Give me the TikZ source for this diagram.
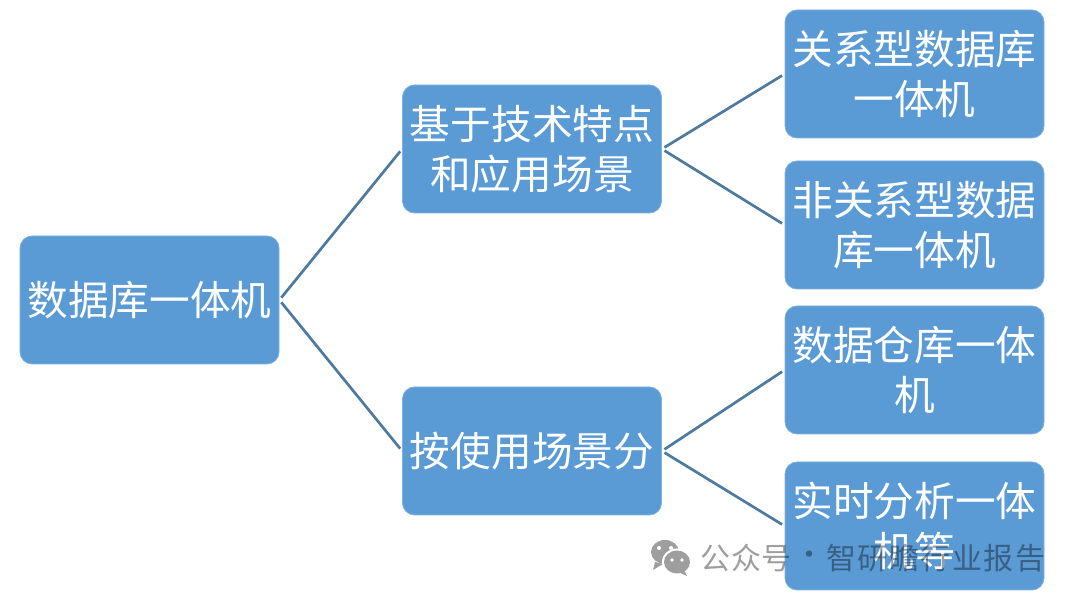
\documentclass[tikz,border=0pt]{standalone}
\usepackage{fontspec}
\setmainfont{Noto Sans CJK SC}
\usetikzlibrary{calc}
\definecolor{boxblue}{HTML}{5B9BD5}
\definecolor{boxedge}{HTML}{7FB1DF}
\definecolor{linkblue}{HTML}{4F7A9F}
\tikzset{
  box/.style={rectangle,rounded corners=12pt,fill=boxblue,draw=boxedge,line width=0.8pt,
    minimum width=259pt,minimum height=128pt,inner sep=0pt,text=white,align=center,
    font=\fontsize{40.7}{50}\selectfont},
  link/.style={draw=linkblue,line width=2.7pt,shorten <=3pt,shorten >=3pt},
  mark text/.style={inner sep=0pt,text=black,text opacity=0.38,font=\fontsize{30}{30}\selectfont,anchor=west}
}
\begin{document}
\begin{tikzpicture}[x=1pt,y=-1pt]
\useasboundingbox[fill=white] (0,0) rectangle (1080,601);
\node[box] (root) at (149.5,300) {\raisebox{1pt}{数据库一体机}};
\node[box] (mid1) at (532,149) {基于技术特点\\和应用场景};
\node[box] (mid2) at (532,451) {按使用场景分};
\node[box] (leaf1) at (914.5,74) {关系型数据库\\一体机};
\node[box] (leaf2) at (914.5,225) {非关系型数据\\库一体机};
\node[box] (leaf3) at (914.5,370) {数据仓库一体\\机};
\node[box] (leaf4) at (914.5,526) {实时分析一体\\机等};
\draw[link] (root.east) -- (mid1.west);
\draw[link] (root.east) -- (mid2.west);
\draw[link] (mid1.east) -- (leaf1.west);
\draw[link] (mid1.east) -- (leaf2.west);
\draw[link] (mid2.east) -- (leaf3.west);
\draw[link] (mid2.east) -- (leaf4.west);
% watermark
\fill[black!38] (665,552) ellipse (14pt and 12pt);
\fill[black!38] (655,562) -- (653,570) -- (663,564) -- cycle;
\fill[white] (677,562) ellipse (15pt and 13.5pt);
\fill[black!38] (677,562) ellipse (13pt and 11.5pt);
\fill[black!38] (684,570) -- (687,576) -- (678,572) -- cycle;
\fill[white] (659,548) circle (2pt) (671,548) circle (2pt) (672,560) circle (1.8pt) (682,560) circle (1.8pt);
\node[mark text] (wm1) at (700.5,558) {\addfontfeature{LetterSpace=1.5}公众号};
\node[mark text] (wm2) at (794,558) {·};
\node[mark text] (wm3) at (826,558) {\addfontfeature{LetterSpace=5}智研瞻行业报告};
\end{tikzpicture}
\end{document}
